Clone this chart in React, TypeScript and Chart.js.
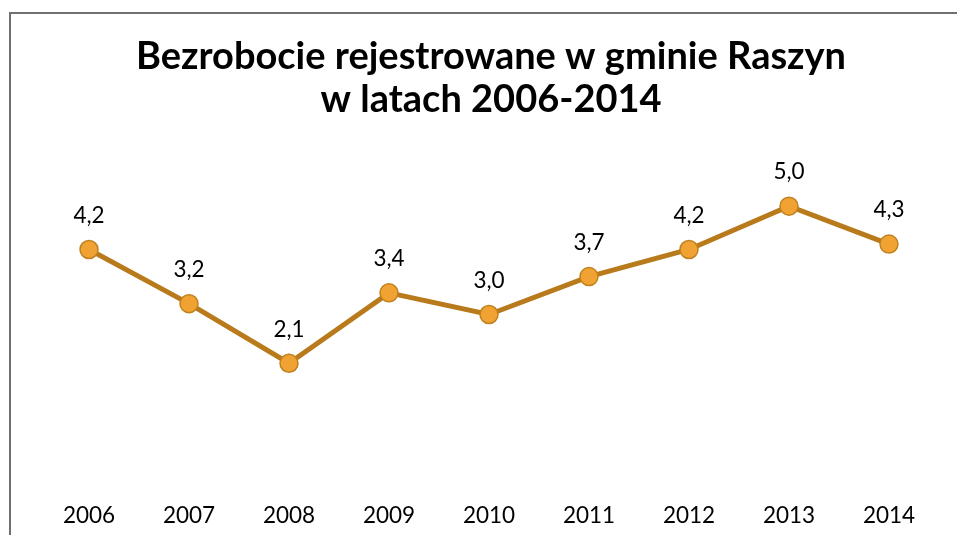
import React, { useEffect, useRef } from "react";
import { Chart, registerables } from "chart.js";

Chart.register(...registerables);

const TITLE_LINES = ["Bezrobocie rejestrowane w gminie Raszyn", "w latach 2006-2014"];
const YEARS = ["2006", "2007", "2008", "2009", "2010", "2011", "2012", "2013", "2014"];
const VALUES = [4.2, 3.2, 2.1, 3.4, 3.0, 3.7, 4.2, 5.0, 4.3];

const FONT = "Lato, 'Open Sans', sans-serif";

const titlePlugin = {
  id: "customTitle",
  afterDraw(chart: any) {
    const ctx = chart.ctx;
    ctx.save();
    ctx.fillStyle = "#000";
    ctx.font = `bold 38px ${FONT}`;
    ctx.textAlign = "center";
    ctx.textBaseline = "middle";
    ctx.fillText(TITLE_LINES[0], 491, 57);
    ctx.fillText(TITLE_LINES[1], 491, 100);
    ctx.restore();
  },
};

const labelPlugin = {
  id: "valueLabels",
  afterDatasetsDraw(chart: any) {
    const ctx = chart.ctx;
    const meta = chart.getDatasetMeta(0);
    ctx.save();
    ctx.fillStyle = "#000";
    ctx.font = `22.5px ${FONT}`;
    ctx.textAlign = "center";
    ctx.textBaseline = "middle";
    meta.data.forEach((pt: any, i: number) => {
      const v = VALUES[i].toFixed(1).replace(".", ",");
      ctx.fillText(v, pt.x, pt.y - 34);
    });
    ctx.restore();
  },
};

export default function App() {
  const ref = useRef<HTMLCanvasElement>(null);
  useEffect(() => {
    if (!ref.current) return;
    const chart = new Chart(ref.current, {
      type: "line",
      data: {
        labels: YEARS,
        datasets: [
          {
            data: VALUES,
            borderColor: "#B97A1B",
            borderWidth: 5,
            pointRadius: 9,
            pointBorderWidth: 1.5,
            pointBackgroundColor: "#F0A332",
            pointBorderColor: "#C0821F",
            tension: 0,
          },
        ],
      },
      options: {
        animation: false,
        responsive: false,
        maintainAspectRatio: false,
        layout: { padding: { left: 39, right: 18, top: 152, bottom: 8 } },
        plugins: { legend: { display: false }, title: { display: false }, tooltip: { enabled: false } },
        scales: {
          x: {
            offset: true,
            grid: { display: false, drawTicks: false },
            border: { display: false },
            ticks: { color: "#000", font: { family: FONT, size: 22.5 }, padding: 25, maxRotation: 0 },
            afterFit: (scale: any) => {
              scale.height = 50;
            },
          },
          y: { display: false, min: 0, max: 6 },
        },
      },
      plugins: [titlePlugin, labelPlugin],
    });
    return () => chart.destroy();
  }, []);
  return (
    <div style={{ position: "fixed", inset: 0, overflow: "hidden", background: "#fff" }}>
      <div
        style={{
          position: "absolute",
          left: 9,
          top: 12,
          width: 1000,
          height: 600,
          borderLeft: "2px solid #707070",
          borderTop: "2px solid #707070",
          boxSizing: "border-box",
        }}
      />
      <canvas ref={ref} width={957} height={535} style={{ position: "absolute", left: 0, top: 0 }} />
    </div>
  );
}
